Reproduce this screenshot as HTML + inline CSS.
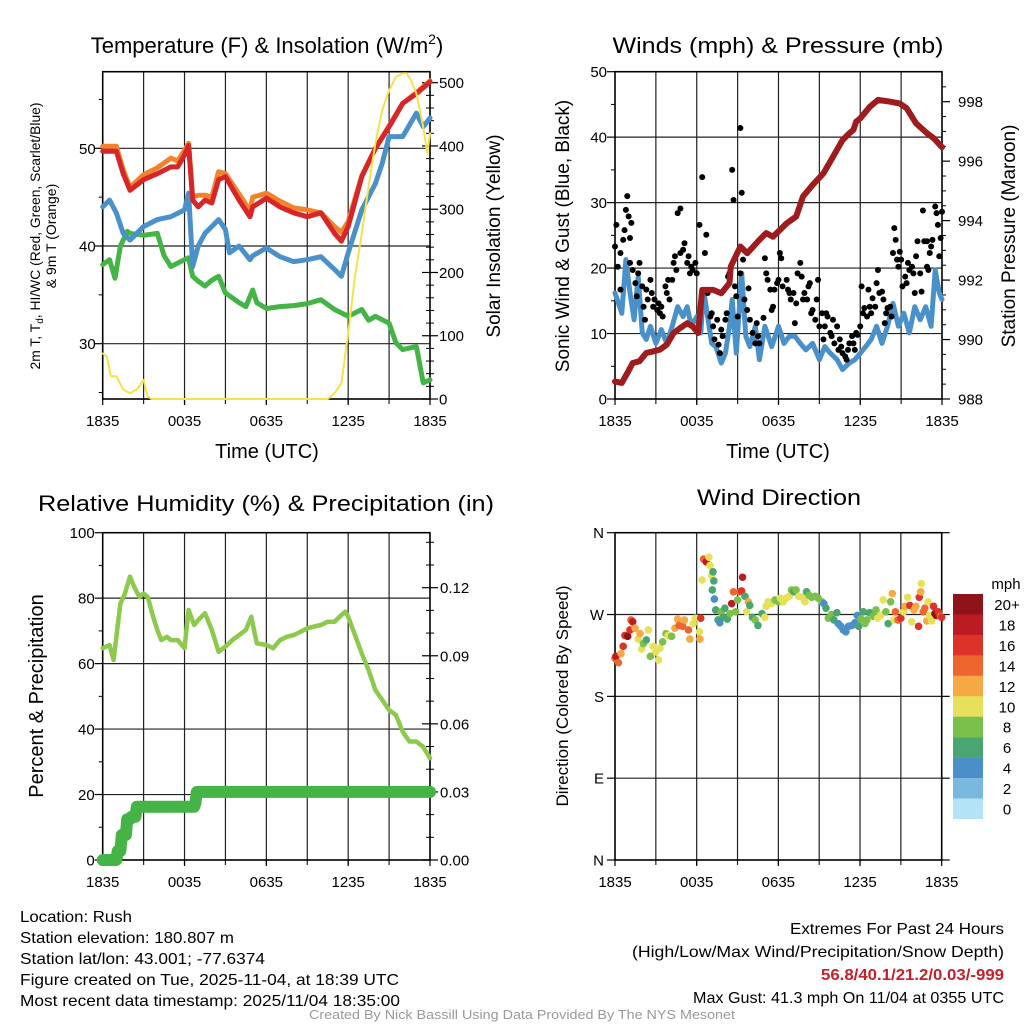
<!DOCTYPE html>
<html><head><meta charset="utf-8"><style>
html,body{margin:0;padding:0;background:#fff;}
svg{display:block;font-family:"Liberation Sans",sans-serif;}
.ft{font-family:"Liberation Sans Narrow","Liberation Sans",sans-serif;}
</style></head><body>
<svg id="c" width="1024" height="1024" viewBox="0 0 1024 1024" xmlns="http://www.w3.org/2000/svg">
<rect width="1024" height="1024" fill="#fff"/>
<text x="267" y="53" font-size="22" text-anchor="middle">Temperature (F) &amp; Insolation (W/m<tspan font-size="14" dy="-9">2</tspan><tspan dy="9">)</tspan></text>
<text x="778" y="53" font-size="22" text-anchor="middle" textLength="331" lengthAdjust="spacingAndGlyphs">Winds (mph) &amp; Pressure (mb)</text>
<text x="266" y="511" font-size="22" text-anchor="middle" textLength="456" lengthAdjust="spacingAndGlyphs">Relative Humidity (%) &amp; Precipitation (in)</text>
<text x="779" y="505" font-size="22" text-anchor="middle" textLength="164" lengthAdjust="spacingAndGlyphs">Wind Direction</text>

<text transform="translate(40,236) rotate(-90)" font-size="14" text-anchor="middle" textLength="267" lengthAdjust="spacingAndGlyphs">2m T, T<tspan font-size="10" dy="3">d</tspan><tspan dy="-3">, HI/WC (Red, Green, Scarlet/Blue)</tspan></text>
<text transform="translate(56,236) rotate(-90)" font-size="14" text-anchor="middle">&amp; 9m T (Orange)</text>
<text transform="translate(500,236) rotate(-90)" font-size="19" text-anchor="middle">Solar Insolation (Yellow)</text>
<text transform="translate(569,236) rotate(-90)" font-size="19" text-anchor="middle">Sonic Wind &amp; Gust (Blue, Black)</text>
<text transform="translate(1015,236) rotate(-90)" font-size="19" text-anchor="middle">Station Pressure (Maroon)</text>
<text transform="translate(43,696) rotate(-90)" font-size="20" text-anchor="middle">Percent &amp; Precipitation</text>
<text transform="translate(568,696) rotate(-90)" font-size="17" text-anchor="middle">Direction (Colored By Speed)</text>
<text x="267" y="458" font-size="20" text-anchor="middle">Time (UTC)</text>
<text x="778" y="458" font-size="20" text-anchor="middle">Time (UTC)</text>

<g class="ft" font-size="16">
<text x="20" y="922" textLength="112" lengthAdjust="spacingAndGlyphs">Location: Rush</text>
<text x="20" y="943" textLength="214" lengthAdjust="spacingAndGlyphs">Station elevation: 180.807 m</text>
<text x="20" y="964" textLength="245" lengthAdjust="spacingAndGlyphs">Station lat/lon: 43.001; -77.6374</text>
<text x="20" y="985" textLength="379" lengthAdjust="spacingAndGlyphs">Figure created on Tue, 2025-11-04, at 18:39 UTC</text>
<text x="20" y="1006" textLength="380" lengthAdjust="spacingAndGlyphs">Most recent data timestamp: 2025/11/04 18:35:00</text>
<text x="1004" y="934" text-anchor="end" textLength="214" lengthAdjust="spacingAndGlyphs">Extremes For Past 24 Hours</text>
<text x="1004" y="957" text-anchor="end" textLength="372" lengthAdjust="spacingAndGlyphs">(High/Low/Max Wind/Precipitation/Snow Depth)</text>
<text x="1004" y="980" text-anchor="end" textLength="183" lengthAdjust="spacingAndGlyphs" fill="#c8202a" font-weight="bold">56.8/40.1/21.2/0.03/-999</text>
<text x="1004" y="1003" text-anchor="end" textLength="311" lengthAdjust="spacingAndGlyphs">Max Gust: 41.3 mph On 11/04 at 0355 UTC</text>
<text x="522" y="1019" text-anchor="middle" font-size="12.5" fill="#999" textLength="426" lengthAdjust="spacingAndGlyphs">Created By Nick Bassill Using Data Provided By The NYS Mesonet</text>
</g>
<g id="plots"></g>
</svg>
<script>
// ---------- data ----------
const xTickLabels = ["1835","0035","0635","1235","1835"];
const xTickHours = [0,6,12,18,24];
// Temperature panel
const tRedHours = [0,1,1.5,2,3,4,5,5.5,6,6.3,6.6,7,7.5,8,8.5,9,10,10.8,11,12,13,14,15,16,17,17.5,18,19,20,21,22,23,24];
const tRed = [49.7,49.7,47.4,45.7,46.8,47.4,48.1,48.1,49.3,50.3,44.7,44.0,44.7,44.4,46.8,47.1,44.7,43.0,44.0,44.9,44.0,43.4,43.0,43.4,41.3,40.5,42.0,47.1,50.0,52.2,54.6,55.6,56.8];
const tOrange = [50.2,50.2,47.8,46.0,47.3,48.0,49.0,48.7,49.8,50.5,45.0,45.2,45.2,45.0,47.6,47.4,45.3,43.6,45.0,45.4,44.6,43.9,43.7,43.4,42.0,41.4,42.5,47.2,50.0,52.3,54.6,55.7,56.9];
const tBlueHours = [0,0.5,1,1.5,2,2.5,3,4,5,6,6.3,6.6,7,7.5,8,8.5,9,9.3,10,10.8,11,12,13,14,15,16,17,17.5,18,19,20,20.5,21,22,23,23.5,24];
const tBlue = [44.0,44.7,43.4,41.3,40.6,41.3,42.0,42.7,43.0,43.7,45.4,37.9,40.0,41.3,42.0,42.7,41.7,39.3,40.0,38.6,39.0,39.8,38.9,38.4,38.6,38.9,37.6,36.9,39.3,43.7,46.4,48.5,51.2,51.2,53.6,52.2,53.1];
const tGreenHours = [0,0.5,0.9,1.3,1.8,2,3,4,4.5,5,6,6.3,6.6,7,7.5,8,8.5,9,10,10.5,11,11.3,12,13,14,15,16,17,18,19,19.5,20,21,21.5,22,23,23.5,24];
const tGreen = [38.1,38.6,36.7,40.0,41.5,41.3,41.1,41.3,39.0,37.9,38.6,38.8,36.9,36.4,35.9,36.5,36.9,35.2,34.2,33.8,35.5,34.2,33.6,33.8,33.9,34.1,34.5,33.5,32.8,33.5,32.4,32.8,32.1,30.1,29.4,29.7,26.0,26.3];
const solarHours = [0,0.3,0.6,1,1.5,2,2.5,3,3.3,3.6,16.5,17,17.5,18,18.5,19,19.5,20,20.5,21,21.5,22,22.3,22.6,23,23.5,23.8,24];
const solar = [72,67,36,36,15,9,15,30,4,0,0,9,25,104,194,262,336,404,457,488,509,515,515,504,483,430,388,420];
// Winds panel
const windHours = [0,0.5,0.8,1.1,1.4,1.7,2,2.3,2.6,3,3.4,3.8,4.2,4.6,5,5.3,5.6,6,6.3,6.5,6.8,7.1,7.4,7.8,8.1,8.4,8.6,8.9,9.3,9.6,9.9,10.3,10.6,11,11.5,12,12.4,12.8,13.2,13.6,14,14.5,15,15.4,15.8,16.3,16.7,17.2,17.6,18,18.4,18.8,19.2,19.6,20,20.4,20.8,21.2,21.6,22,22.4,22.8,23.2,23.5,23.8,24];
const windSpeed = [16.2,13.1,21.3,16.2,12.1,18.7,10.1,9.1,11.1,8.5,10.6,8.5,11.1,14.1,12.6,14.1,11.1,12.6,10.1,16.7,12.6,8.5,8.0,5.5,7.0,11.1,15.2,7.0,19.2,9.6,8.0,11.1,6.0,11.1,8.0,11.1,8.5,9.6,9.6,8.5,7.5,8.5,6.0,8.0,7.0,6.0,4.5,5.5,6.0,7.0,8.0,9.1,11.1,8.5,11.1,14.6,11.1,13.1,10.1,14.1,12.1,14.1,11.1,19.7,16.2,15.2];
const pressHours = [0,0.5,0.9,1.3,1.8,2.3,2.8,3.3,3.8,4.3,4.8,5.3,5.7,6,6.1,6.4,7.2,7.8,8.4,8.5,9.2,9.7,10.6,11.1,11.6,12.6,13.3,13.8,14.5,15.3,16,16.7,17.2,17.5,17.7,18,18.7,19.3,20.2,20.9,21.4,22.1,22.9,23.4,24];
const pressure = [988.59,988.54,988.87,989.21,989.27,989.55,989.6,989.66,989.83,990.22,990.39,990.55,990.44,990.27,990.22,991.67,991.67,991.56,991.9,992.46,993.13,992.9,993.35,993.58,993.46,993.91,994.14,994.81,995.2,995.59,996.15,996.71,996.94,997.05,997.33,997.44,997.83,998.06,998.0,997.94,997.78,997.27,996.94,996.77,996.47];
const gustHours = [0,0.1,0.2,0.4,0.4,0.6,0.7,0.8,0.9,1.0,1.1,1.2,1.1,1.3,1.5,1.6,1.7,1.8,2.0,2.1,2.2,2.3,2.4,2.6,2.7,2.8,2.9,3.1,3.2,3.3,3.4,3.5,3.7,3.8,3.9,4.0,4.2,4.3,4.4,4.5,4.6,4.8,4.8,5.0,5.1,5.3,5.4,5.5,5.6,5.7,5.9,6.0,6.2,6.4,6.6,6.7,6.8,7.0,7.1,7.2,7.3,7.5,7.6,7.7,7.8,7.9,8.1,8.2,8.3,8.4,8.6,8.7,8.8,8.9,9.0,9.2,9.2,9.3,9.4,9.5,9.7,9.8,9.9,10.1,10.3,10.4,10.5,10.6,10.9,11.0,11.1,11.2,11.4,11.5,11.6,11.7,11.9,12.0,12.1,12.2,12.3,12.6,12.7,12.8,12.9,13.1,13.2,13.3,13.4,13.6,13.7,13.8,13.9,14.1,14.2,14.3,14.4,14.5,14.7,14.8,14.9,15.0,15.2,15.3,15.4,15.5,15.6,15.8,15.9,16.0,16.1,16.3,16.4,16.5,16.6,16.7,16.9,17.0,17.1,17.2,17.4,17.5,17.6,17.7,17.8,18.0,18.1,18.2,18.3,18.5,18.6,18.7,18.8,18.9,19.1,19.2,19.3,19.4,19.6,19.7,19.8,19.9,20.0,20.2,20.3,20.4,20.5,20.6,20.7,20.8,20.9,21.0,21.1,21.3,21.4,21.5,21.6,21.8,21.9,22.0,22.1,22.2,22.4,22.5,22.6,22.7,22.9,22.9,23.0,23.1,23.2,23.3,23.5,23.6,23.7,23.8,23.9,24];
const gustSpeed = [23.3,26.6,20.2,16.7,22.3,24.3,25.8,28.9,31,27.9,24.6,26.9,20.8,19.7,17.7,15.7,19.2,20.8,17.2,14.1,12.1,16.7,15.2,18.2,16.2,14.1,15.2,13.6,14.6,13.1,14.1,12.6,17.2,16.2,18.2,15.2,18.2,20.8,21.8,19.7,28.4,29.1,22.3,22.8,23.8,20.8,21.8,19.2,20.2,19.7,20.8,19.2,26.6,33.9,22.3,25.1,16.2,12.6,13.1,11.1,9.1,12.1,8.3,7.0,10.6,9.6,12.1,13.1,18.7,19.2,35,30.4,17.2,15.7,12.6,19.2,41.4,31.5,21.3,15.2,13.6,16.9,12.1,10.1,8.5,11.6,9.6,8.5,12.4,21.5,19.2,18.2,16.7,13.6,14.1,16.7,17.7,18.2,22.3,21.5,17.2,18.2,16.7,16.2,15.2,16.2,11.6,14.6,19.2,20.8,18.7,15.2,16.2,15.2,17.2,17.7,13.1,13.6,12.1,15.2,18.2,11.1,13.1,9.1,11.1,13.1,12.6,10.1,9.6,12.1,8.5,11.1,7.5,9.1,8.0,7.0,6.5,6.0,7.5,8.5,9.6,8.5,7.5,10.1,9.8,11.1,17.2,13.1,13.9,12.6,16.7,14.1,13.1,15.4,14.1,17.7,19.7,16.2,16.4,15.2,11.6,13.1,13.9,14.1,12.6,22.3,26.1,24.3,21.3,20.2,22.5,21.3,17.2,18.7,17.7,20.8,19.7,20.2,19.2,16.2,21.8,24.1,19.2,16.4,28.8,24.1,20.2,24.1,19.7,22.3,23.3,24.3,29.4,28.4,26.6,21.8,24.6,28.6];
// Humidity panel
const rhHours = [0,0.5,0.8,1.3,1.6,2,2.3,2.7,3,3.3,3.7,4,4.3,4.7,5,5.5,6,6.3,6.7,7,7.5,8,8.5,9,9.5,10,10.5,10.9,11.3,12,12.5,13,13.5,14,14.5,15,15.5,16,16.5,17,17.5,17.8,18,18.5,19,19.5,20,20.5,21,21.5,22,22.5,23,23.5,24];
const rh = [64.7,65.7,61.1,78.4,81,86.6,83.5,80.4,81.4,80.4,74.3,70.3,67.2,68.2,67.2,67.2,64.7,76.4,71.8,73.3,75.4,70.3,63.6,65.2,67.2,68.7,70.3,74.3,66.2,65.7,64.7,67.2,68.2,68.7,69.7,70.8,71.3,71.8,72.8,72.8,74.8,75.9,74.3,68.7,63.1,58.0,51.9,48.9,45.8,44.3,39.2,36.2,36.2,34.6,31.1];
const precipHours = [0,1.0,1.1,1.3,1.4,1.7,1.8,2.0,2.1,2.4,2.5,6.7,6.8,6.9,24];
const precip = [0,0,0.004,0.004,0.011,0.011,0.018,0.018,0.019,0.019,0.0235,0.0235,0.025,0.03,0.03];
// Wind direction panel
const dirHours = [0,0.07,0.25,0.44,0.6,0.73,0.93,1.1,1.17,1.3,1.47,1.7,1.84,1.96,2.08,2.3,2.45,2.6,2.8,3.0,3.2,3.3,3.5,3.75,3.9,4.16,4.4,4.6,4.7,4.97,5.1,5.4,5.5,5.75,5.9,6.2,6.24,6.3,6.4,6.5,6.7,6.9,6.98,7.1,7.2,7.26,7.15,7.3,7.4,7.57,7.7,7.8,7.95,8.07,8.25,8.44,8.57,8.7,8.86,9.0,9.18,9.37,9.3,9.55,9.67,9.8,9.9,10.1,10.3,10.5,10.8,11.0,11.1,11.25,11.5,11.75,12,12.15,12.36,12.56,12.8,12.97,13.15,13.3,13.5,13.8,13.95,14.07,14.27,14.45,14.7,14.93,15.2,15.35,15.5,15.67,15.9,16.08,16.3,16.4,16.6,16.77,16.96,17.16,17.4,17.63,17.8,17.9,18.07,18.24,18.36,18.5,18.7,18.97,19.17,19.3,19.5,19.7,19.9,20.07,20.25,20.37,20.5,20.6,20.8,21.0,21.2,21.3,21.5,21.66,21.8,21.96,22.1,22.3,22.35,22.45,22.5,22.64,22.76,22.9,23.0,23.1,23.25,23.4,23.5,23.6,23.75,23.9,24];
const dirDeg = [222,224,217,227,235,247,246,253,264,262,255,243,249,232,238,242,253,224,235,229,220,233,240,249,247,246,255,265,258,257,264,253,243,260,266,251,243,266,308,331,328,333,324,313,317,307,297,287,275,264,261,273,267,277,265,271,282,295,273,286,295,311,296,290,273,284,280,267,264,258,271,267,279,284,282,286,284,288,284,288,290,297,295,297,290,289,284,295,291,289,290,288,284,282,277,266,270,264,272,260,257,253,251,257,258,261,269,257,265,273,260,264,272,268,275,266,269,286,273,260,284,293,264,273,264,266,273,279,289,280,262,275,279,257,289,295,304,273,277,263,284,269,263,279,271,269,273,268,267];
const dirSpeed = [15,18,14,13,16,17,20,16,14,18,12,10,12,10,8,6,10,8,10,10,10,10,8,8,10,8,12,12,14,14,12,14,12,10,10,10,12,16,10,14,18,10,10,10,6,6,6,4,6,6,4,8,6,6,6,8,18,14,8,8,14,18,16,6,10,12,6,6,8,6,6,10,10,10,10,8,8,10,10,10,10,8,6,8,10,10,10,6,8,8,8,8,8,4,6,8,8,6,6,4,4,4,4,4,4,4,4,6,8,6,8,8,6,8,8,10,10,10,8,6,8,12,10,14,14,16,10,12,10,16,10,12,12,16,16,12,10,14,14,12,10,10,10,16,20,20,16,14,16];
const cbarLabels = ["20+","18","16","14","12","10","8","6","4","2","0"];
const cbarColors = ["#8f1419","#bb1c24","#dc3228","#ef6530","#f6a843","#e6e05a","#7bc04a","#4aa670","#4a8fc7","#7ab8e0","#b3e3f7"];

// ---------- drawing ----------
const NS="http://www.w3.org/2000/svg";
const root=document.getElementById('plots');
function mk(tag,attrs,parent){const e=document.createElementNS(NS,tag);for(const k in attrs)e.setAttribute(k,attrs[k]);(parent||root).appendChild(e);return e;}
function txt(s,x,y,anchor,size,parent){const e=mk('text',{x:x,y:y,'text-anchor':anchor,'font-size':size},parent);e.textContent=s;return e;}
function lin(a,b){return v=>a[1]+(v-a[0])*(b[1]-a[1])/(b[0]-a[0]);}

const panels={
 temp:{x0:102.7,x1:430,y0:71.7,y1:399},
 wind:{x0:615,x1:942,y0:71.7,y1:399},
 rh:{x0:102.7,x1:430,y0:532.7,y1:860},
 dir:{x0:615,x1:941.7,y0:532.7,y1:860}
};
function xs(p){return h=>p.x0+h*(p.x1-p.x0)/24;}

function frame(p,name,gridYs){
  const g=mk('g',{});
  
  
  const X=xs(p);
  for(let h=3;h<24;h+=3){const l=mk('line',{x1:X(h),x2:X(h),y1:p.y0,y2:p.y1+5,stroke:'#222','stroke-width':1.2},g);}
  gridYs.forEach(y=>{const l=mk('line',{x1:p.x0,x2:p.x1,y1:y,y2:y,stroke:'#222','stroke-width':1.2},g);});
  const r=mk('rect',{x:p.x0,y:p.y0,width:p.x1-p.x0,height:p.y1-p.y0,fill:'none',stroke:'#000','stroke-width':1.6},g);
  
  xTickHours.forEach((h,i)=>{
    mk('line',{x1:X(h),x2:X(h),y1:p.y1,y2:p.y1+6,stroke:'#000','stroke-width':1.2},g);
    const t=txt(xTickLabels[i],X(h),p.y1+27,'middle',15,g);
    
  });
  return g;
}
function yAxis(g,p,side,vals,labels,Y,minors,major,minorLen,outOnly,labelGap){
  const xa=side==='l'?p.x0:p.x1, d=side==='l'?-1:1;
  vals.forEach((v,i)=>{
    mk('line',{x1:outOnly?xa:xa-d*major,x2:xa+d*major,y1:Y(v),y2:Y(v),stroke:'#000','stroke-width':1.2},g);
    const t=txt(labels[i],xa+d*labelGap,Y(v)+5.5,side==='l'?'end':'start',15,g);
    
  });
  minors.forEach(v=>mk('line',{x1:outOnly?xa:xa-d*minorLen,x2:xa+d*minorLen,y1:Y(v),y2:Y(v),stroke:'#000','stroke-width':1},g));
}
function path(X,Y,hs,vs,color,w,name){
  let d='';hs.forEach((h,i)=>{d+=(i?'L':'M')+X(h).toFixed(1)+' '+Y(vs[i]).toFixed(1);});
  const e=mk('path',{d:d,fill:'none',stroke:color,'stroke-width':w,'stroke-linejoin':'round','stroke-linecap':'round'});
  
  
  return e;
}
function range(a,b,s){const r=[];for(let v=a;v<=b+1e-9;v+=s)r.push(+v.toFixed(4));return r;}

// Panel 1
(function(){
  const p=panels.temp, X=xs(p);
  const Y=lin([50,148.3],[40,246]);
  const Ys=lin([0,399],[500,82.7]);
  const g=frame(p,'temperature',[Y(30),Y(40),Y(50)]);
  yAxis(g,p,'l',[30,40,50],['30','40','50'],Y,[25,35,45,55],8,4,true,7);
  yAxis(g,p,'r',[0,100,200,300,400,500],['0','100','200','300','400','500'],Ys,range(20,500,20).filter(v=>v%100),8,4,false,9);
  path(X,Y,tGreenHours,tGreen,'#45b446',5,'dewpoint-line');
  path(X,Y,tBlueHours,tBlue,'#4a90c9',5,'windchill-line');
  path(X,Y,tRedHours,tOrange,'#f4812c',5,'temp-9m-line');
  path(X,Y,tRedHours,tRed,'#d7262a',5,'temp-2m-line');
  path(X,Ys,solarHours,solar,'#f7e04a',2,'insolation-line');
})();

// Panel 2
(function(){
  const p=panels.wind, X=xs(p);
  const Y=lin([0,399],[50,71.7]);
  const Yp=lin([988,399],[998,101.7]);
  const g=frame(p,'winds',[Y(10),Y(20),Y(30),Y(40)]);
  yAxis(g,p,'l',[0,10,20,30,40,50],['0','10','20','30','40','50'],Y,[5,15,25,35,45],8,4,true,8);
  yAxis(g,p,'r',[988,990,992,994,996,998],['988','990','992','994','996','998'],Yp,range(988.5,998.5,0.5).filter(v=>v%2),8,4,true,16);
  path(X,Y,windHours,windSpeed,'#4a90c9',5,'sustained-wind-line');
  gustHours.forEach((h,i)=>{
    const c=mk('circle',{cx:X(h),cy:Y(gustSpeed[i]),r:3,fill:'#000'});
    
    
  });
  path(X,Yp,pressHours,pressure,'#9e1b1e',6,'pressure-line');
})();

// Panel 3
(function(){
  const p=panels.rh, X=xs(p);
  const Y=lin([0,860],[100,532.7]);
  const Yp=lin([0,860],[0.12,587.7]);
  const g=frame(p,'humidity',[Y(20),Y(40),Y(60),Y(80)]);
  yAxis(g,p,'l',[0,20,40,60,80,100],['0','20','40','60','80','100'],Y,[10,30,50,70,90],8,4,true,8);
  yAxis(g,p,'r',[0,0.03,0.06,0.09,0.12],['0.00','0.03','0.06','0.09','0.12'],Yp,[0.01,0.02,0.04,0.05,0.07,0.08,0.1,0.11,0.13,0.14],8,4,false,10);
  path(X,Y,rhHours,rh,'#8cc94c',4.5,'humidity-line');
  path(X,Yp,precipHours,precip,'#45b446',12,'precipitation-line');
})();

// Panel 4
(function(){
  const p=panels.dir, X=xs(p);
  const Y=lin([0,860],[360,532.7]);
  const g=frame(p,'direction',[Y(90),Y(180),Y(270)]);
  yAxis(g,p,'l',[0,90,180,270,360],['N','E','S','W','N'],Y,[],8,4,true,11);
  [0,90,180,270,360].forEach(v=>mk('line',{x1:p.x1,x2:p.x1+8,y1:Y(v),y2:Y(v),stroke:'#000','stroke-width':1.2},g));
  function col(s){let i=Math.floor(s/2);if(i>10)i=10;return cbarColors[10-i];}
  dirHours.forEach((h,i)=>{
    const c=mk('circle',{cx:X(h),cy:Y(dirDeg[i]),r:3.8,fill:col(dirSpeed[i])});
    
    
  });
  const cb=mk('g',{});
  
  
  const t=txt('mph',1006,589,'middle',15,cb);
  
  cbarColors.forEach((c,i)=>{
    const r=mk('rect',{x:953,y:594+i*20.45,width:30,height:20.6,fill:c},cb);
    
    const l=txt(cbarLabels[i],1007,594+i*20.45+16,'middle',15,cb);
    
  });
})();
</script>
</body></html>
